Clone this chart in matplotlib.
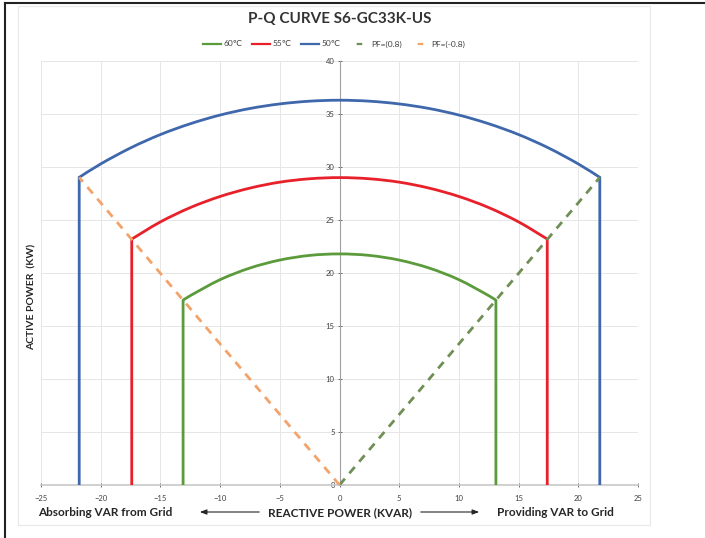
import matplotlib
matplotlib.use("Agg")
import matplotlib.pyplot as plt
from matplotlib.patches import Rectangle, FancyArrowPatch, PathPatch
from matplotlib.path import Path
from matplotlib.lines import Line2D

plt.rcParams['font.family'] = ['Lato', 'DejaVu Sans']

# ---- data ----
arc_q_blue = [-21.8, -20, -17.5, -15, -12.5, -10, -7.5, -5, -2.5, 0, 2.5, 5, 7.5, 10, 12.5, 15, 17.5, 20, 21.8]
arc_p_blue = [29.02, 30.29, 31.80, 33.06, 34.08, 34.90, 35.52, 35.95, 36.21, 36.3,
              36.21, 35.95, 35.52, 34.90, 34.08, 33.06, 31.80, 30.29, 29.02]

arc_q_red = [-17.4, -15, -12.5, -10, -7.5, -5, -2.5, 0, 2.5, 5, 7.5, 10, 12.5, 15, 17.4]
arc_p_red = [23.2, 24.82, 26.17, 27.22, 28.01, 28.57, 28.89, 29.0,
             28.89, 28.57, 28.01, 27.22, 26.17, 24.82, 23.2]

arc_q_green = [-13.1, -12.5, -10, -7.5, -5, -2.5, 0, 2.5, 5, 7.5, 10, 12.5, 13.1]
arc_p_green = [17.42, 17.86, 19.37, 20.47, 21.22, 21.66, 21.8,
               21.66, 21.22, 20.47, 19.37, 17.86, 17.42]

pf_pos_q = [0, 21.8]
pf_pos_p = [0, 29.02]
pf_neg_q = [0, -21.8]
pf_neg_p = [0, 29.02]

x_ticks = [-25, -20, -15, -10, -5, 0, 5, 10, 15, 20, 25]
y_ticks = [0, 5, 10, 15, 20, 25, 30, 35, 40]

labels = ['60\u2103', '55\u2103', '50\u2103', 'PF=(0.8)', 'PF=(-0.8)']
colors = ['#5B9B3B', '#E8202A', '#3F68AC', '#6F8F55', '#F2A36A']


def smooth_path(q, p):
    """Vertical leg up, smoothed (Catmull-Rom Bezier) arc through points, vertical leg down."""
    verts = [(q[0], 0), (q[0], p[0])]
    codes = [Path.MOVETO, Path.LINETO]
    n = len(q)
    for i in range(n - 1):
        i0 = max(i - 1, 0)
        i3 = min(i + 2, n - 1)
        c1 = (q[i] + (q[i + 1] - q[i0]) / 6.0, p[i] + (p[i + 1] - p[i0]) / 6.0)
        c2 = (q[i + 1] - (q[i3] - q[i]) / 6.0, p[i + 1] - (p[i3] - p[i]) / 6.0)
        verts += [c1, c2, (q[i + 1], p[i + 1])]
        codes += [Path.CURVE4] * 3
    verts.append((q[-1], 0))
    codes.append(Path.LINETO)
    return Path(verts, codes)


fig = plt.figure(figsize=(7.05, 5.38), dpi=100)

# outer frame lines and chart-area border
fig.patches.append(Rectangle((18 / 705, 1 - 525 / 538), (650 - 18) / 705, (525 - 6) / 538,
                             transform=fig.transFigure, fill=False, ec='#E8E8E8', lw=0.8))
fig.add_artist(Line2D([5 / 705, 5 / 705], [0, 1 - 3 / 538], transform=fig.transFigure, color='#222222', lw=1.5))
fig.add_artist(Line2D([5 / 705, 1], [1 - 3 / 538, 1 - 3 / 538], transform=fig.transFigure, color='#222222', lw=1.5))

ax = fig.add_axes([41 / 705, 1 - 485 / 538, (638 - 41) / 705, (485 - 61) / 538])
ax.set_xlim(-25, 25)
ax.set_ylim(0, 40)

ax.grid(True, color='#E6E6E6', lw=0.7)
ax.set_axisbelow(True)

# curves
for qq, pp, c in [(arc_q_green, arc_p_green, colors[0]),
                  (arc_q_red, arc_p_red, colors[1]),
                  (arc_q_blue, arc_p_blue, colors[2])]:
    ax.add_patch(PathPatch(smooth_path(qq, pp), fill=False, ec=c, lw=2.0, zorder=3,
                           joinstyle='miter', capstyle='butt'))
ax.plot(pf_pos_q, pf_pos_p, color=colors[3], lw=2.0, ls=(0, (3, 2.5)), zorder=3)
ax.plot(pf_neg_q, pf_neg_p, color=colors[4], lw=2.0, ls=(0, (3, 2.5)), zorder=3)

# spines through origin
for s in ['top', 'right']:
    ax.spines[s].set_visible(False)
ax.spines['left'].set_position(('data', 0))
ax.spines['bottom'].set_position(('data', 0))
ax.spines['left'].set_color('#A0A0A0')
ax.spines['bottom'].set_color('#C8C8C8')
ax.spines['bottom'].set_linewidth(1.2)
ax.spines['left'].set_linewidth(0.8)

ax.set_xticks(x_ticks)
ax.set_yticks(y_ticks)
ax.tick_params(axis='both', labelsize=5.5, colors='#555555', length=3, width=0.6, direction='inout',
               labelcolor='#404040')
ax.tick_params(axis='x', pad=6)
ax.tick_params(axis='y', pad=2)

# title
fig.text(340 / 705, 1 - 19 / 538, 'P-Q CURVE S6-GC33K-US', ha='center', va='center',
         fontsize=11, fontweight='bold', color='#333333')

# legend
handles = [
    Line2D([], [], color=colors[0], lw=1.6),
    Line2D([], [], color=colors[1], lw=1.6),
    Line2D([], [], color=colors[2], lw=1.6),
    Line2D([], [], color=colors[3], lw=1.6, ls=(12.0, (2.5, 12.5))),
    Line2D([], [], color=colors[4], lw=1.6, ls=(12.0, (2.5, 12.5))),
]
ax.legend(handles, labels, loc='center', bbox_to_anchor=(334 / 705, 1 - 44 / 538),
          bbox_transform=fig.transFigure, ncol=5, frameon=False, fontsize=6, handlelength=2.2,
          columnspacing=1.1, handletextpad=0.3, labelcolor='#404040')

# axis labels
fig.text(32 / 705, 1 - 297 / 538, 'ACTIVE POWER  (KW)', rotation=90, ha='center', va='center',
         fontsize=7.5, fontweight='bold', color='#262626')
fig.text(340 / 705, 1 - 513 / 538, 'REACTIVE POWER (KVAR)', ha='center', va='center',
         fontsize=8.5, fontweight='bold', color='#262626')
fig.text(105 / 705, 1 - 513 / 538, 'Absorbing VAR from Grid', ha='center', va='center',
         fontsize=8.5, fontweight='bold', color='#262626')
fig.text(555 / 705, 1 - 513 / 538, 'Providing VAR to Grid', ha='center', va='center',
         fontsize=8.5, fontweight='bold', color='#262626')
fig.add_artist(FancyArrowPatch((262 / 705, 1 - 512 / 538), (197 / 705, 1 - 512 / 538),
                               transform=fig.transFigure, arrowstyle='-|>,head_length=4,head_width=1.5',
                               color='#262626', lw=0.8))
fig.add_artist(FancyArrowPatch((418 / 705, 1 - 512 / 538), (482 / 705, 1 - 512 / 538),
                               transform=fig.transFigure, arrowstyle='-|>,head_length=4,head_width=1.5',
                               color='#262626', lw=0.8))

fig.savefig('out.png', dpi=100, facecolor='white')
